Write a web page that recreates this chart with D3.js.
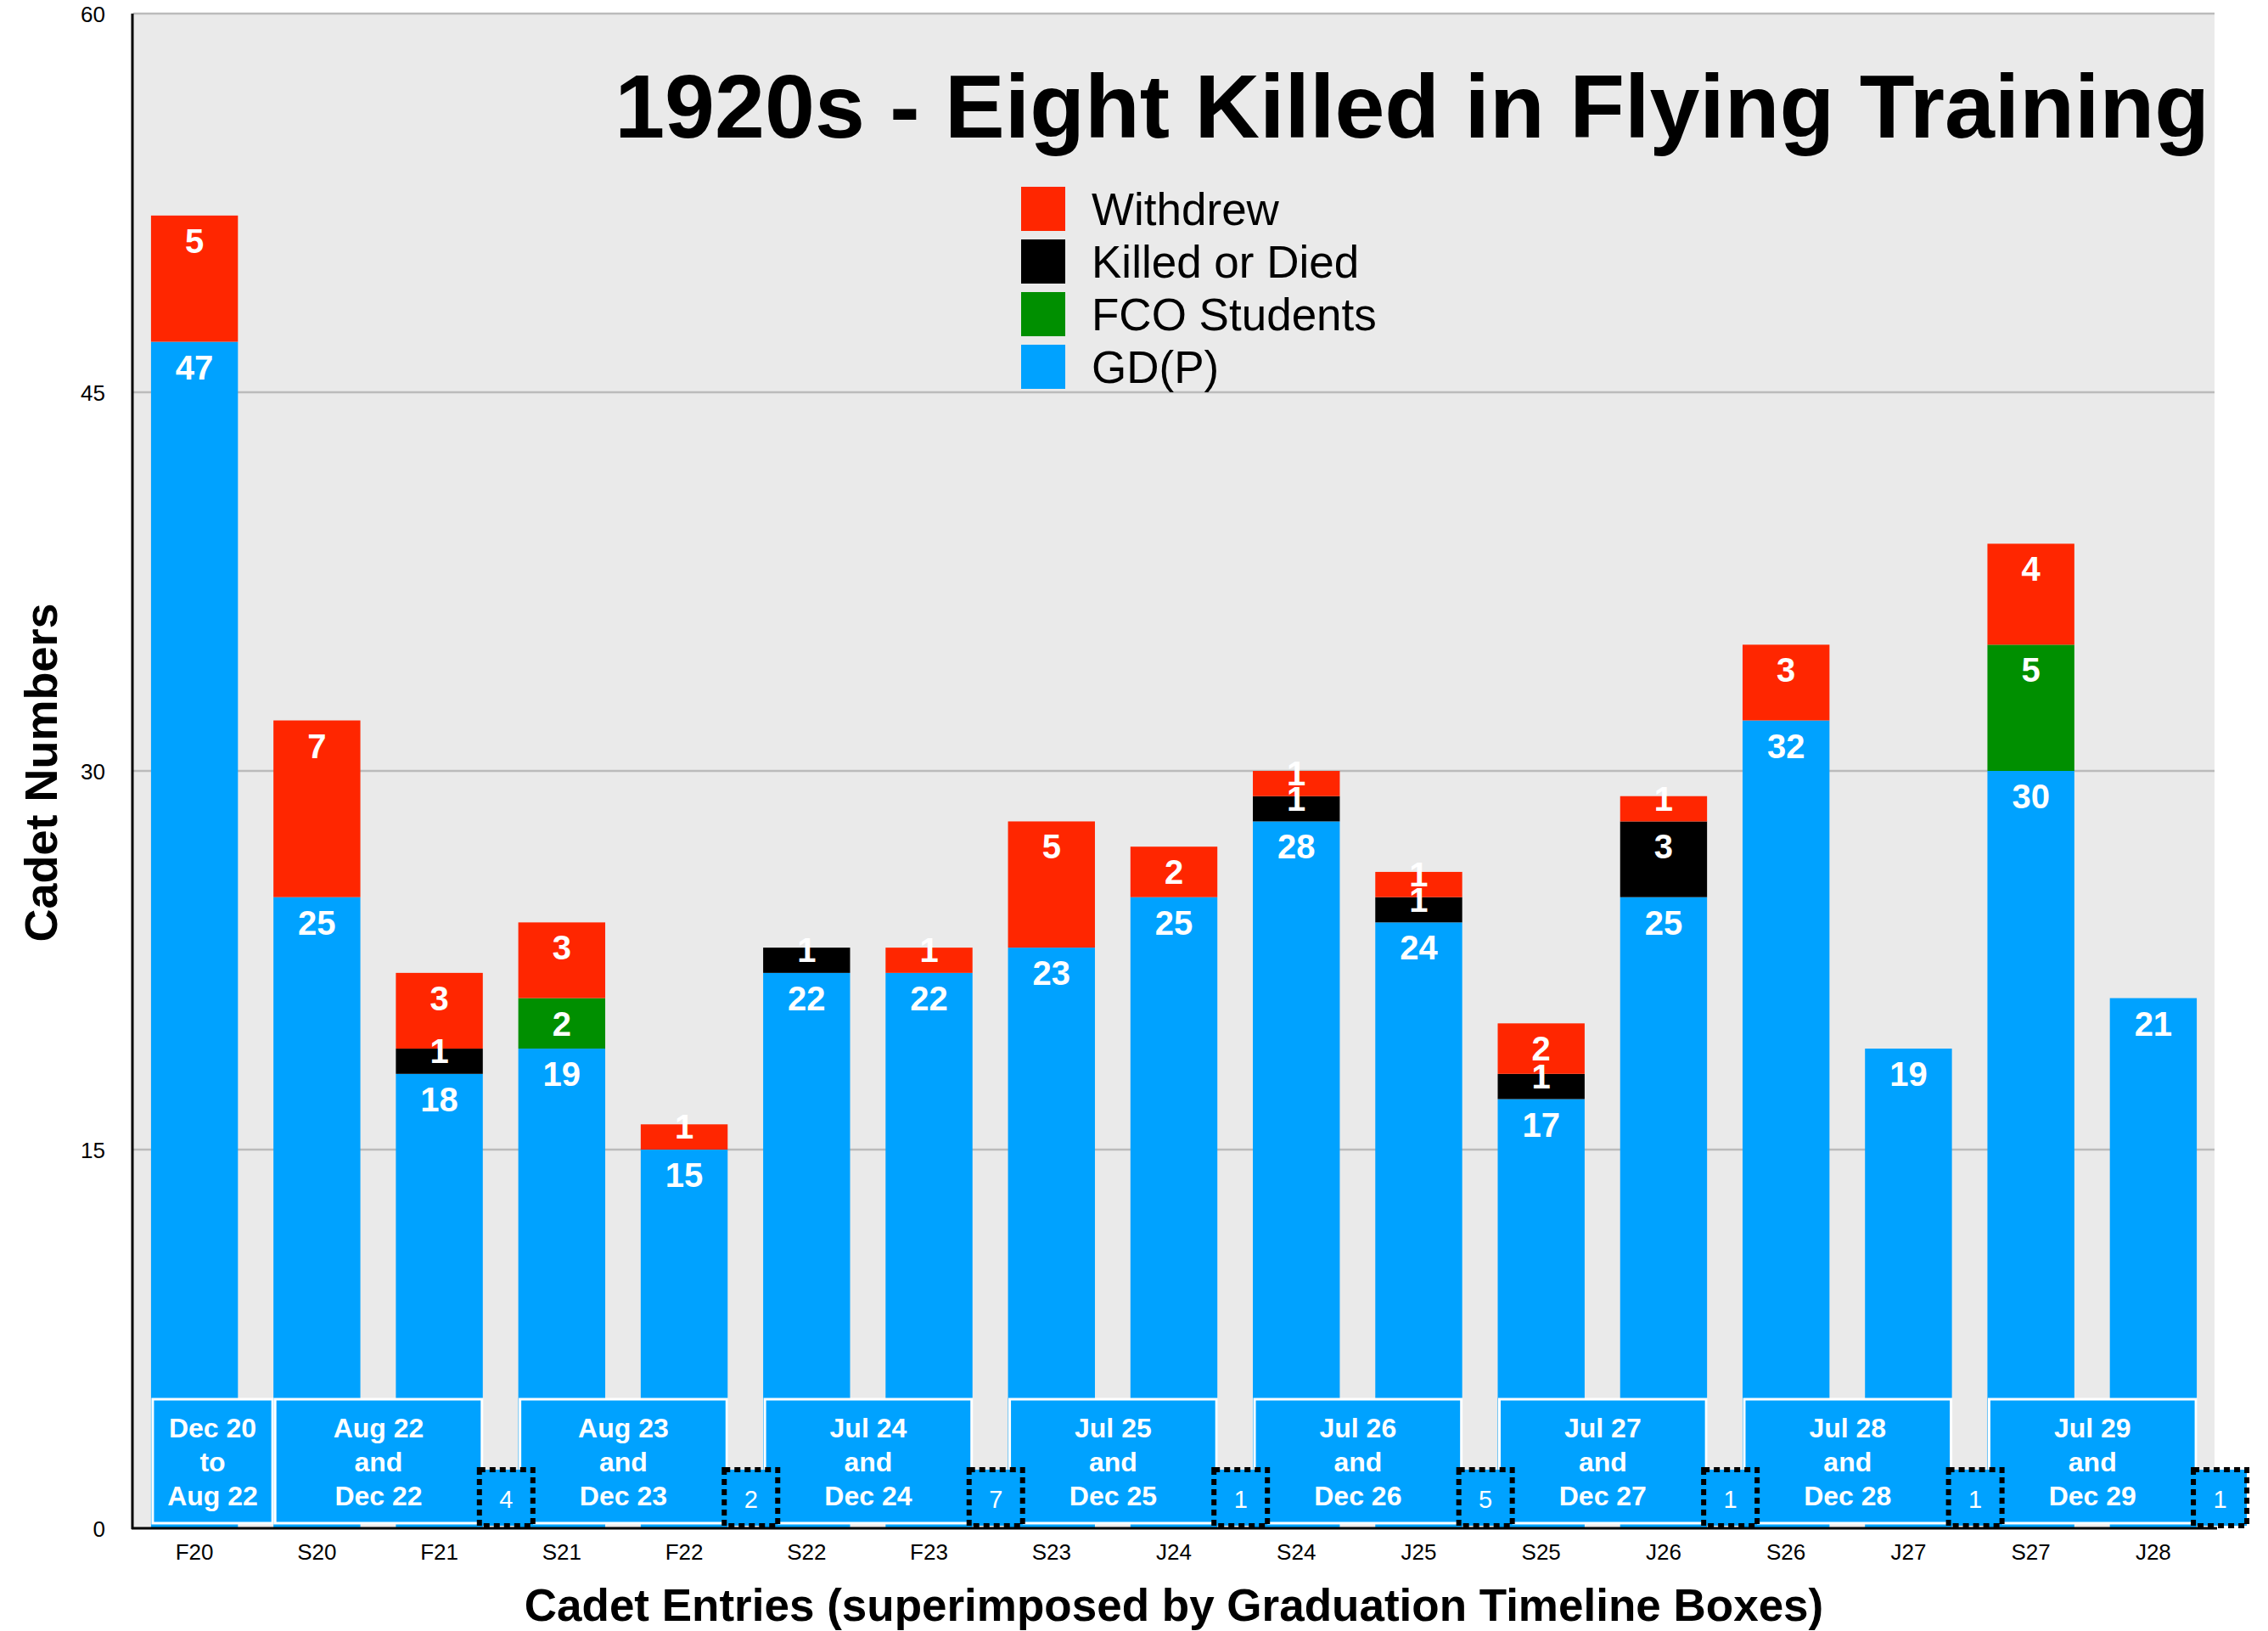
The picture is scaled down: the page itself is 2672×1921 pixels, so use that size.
<!DOCTYPE html>
<html>
  <head>
    <meta charset="UTF-8">
    <title>1920s - Eight Killed in Flying Training</title>
    <script src="https://d3js.org/d3.v7.min.js"></script>
    <style>
      body { margin: 0; background: #fff; }
      svg { display: block; font-family: "Liberation Sans", Arial, Helvetica, sans-serif; }
    </style>
  </head>
  <body>
    <svg width="2672" height="1921"></svg>

    <script>

const entries = ["F20", "S20", "F21", "S21", "F22", "S22", "F23", "S23", "J24",
                 "S24", "J25", "S25", "J26", "S26", "J27", "S27", "J28"];
const gdp      = [47, 25, 18, 19, 15, 22, 22, 23, 25, 28, 24, 17, 25, 32, 19, 30, 21];
const fco      = [ 0,  0,  0,  2,  0,  0,  0,  0,  0,  0,  0,  0,  0,  0,  0,  5,  0];
const killed   = [ 0,  0,  1,  0,  0,  1,  0,  0,  0,  1,  1,  1,  3,  0,  0,  0,  0];
const withdrew = [ 5,  7,  3,  3,  1,  0,  1,  5,  2,  1,  1,  2,  1,  3,  0,  4,  0];
const yTicks = [0, 15, 30, 45, 60];

// graduation timeline boxes
const gradFrom = ["F20", "S20", "S21", "S22", "S23", "S24", "S25", "S26", "S27"];
const gradTo   = ["F20", "F21", "F22", "F23", "J24", "J25", "J26", "J27", "J28"];
const gradText = [
  ["Dec 20", "to", "Aug 22"],
  ["Aug 22", "and", "Dec 22"],
  ["Aug 23", "and", "Dec 23"],
  ["Jul 24", "and", "Dec 24"],
  ["Jul 25", "and", "Dec 25"],
  ["Jul 26", "and", "Dec 26"],
  ["Jul 27", "and", "Dec 27"],
  ["Jul 28", "and", "Dec 28"],
  ["Jul 29", "and", "Dec 29"]
];
// small dotted boxes after these entries
const gapAfter  = ["F21", "F22", "F23", "J24", "J25", "J26", "J27", "J28"];
const gapCounts = [4, 2, 7, 1, 5, 1, 1, 1];

const keys = ["gdp", "fco", "killed", "withdrew"];
const keyNames = {withdrew: "Withdrew", killed: "Killed or Died", fco: "FCO Students", gdp: "GD(P)"};
const colors = {gdp: "#00A2FF", fco: "#008F00", killed: "#000000", withdrew: "#FF2600"};

const rows = entries.map((e, i) => ({
  entry: e, gdp: gdp[i], fco: fco[i], killed: killed[i], withdrew: withdrew[i]
}));

const svg = d3.select("svg");
const plotL = 157, plotR = 2609, plotT = 16, plotB = 1800;

const x = d3.scaleBand()
  .domain(entries)
  .range([plotL, plotR])
  .paddingInner(0.29)
  .paddingOuter(0.145);

const y = d3.scaleLinear()
  .domain([0, 60])
  .range([plotB, plotT]);

// plot background
svg.append("rect")
  .attr("x", plotL).attr("y", plotT)
  .attr("width", plotR - plotL).attr("height", plotB - plotT)
  .attr("fill", "#EAEAEA");

// gridlines
svg.append("g")
  .selectAll("line")
  .data(yTicks.filter(d => d > 0))
  .join("line")
  .attr("x1", plotL).attr("x2", plotR)
  .attr("y1", d => y(d)).attr("y2", d => y(d))
  .attr("stroke", "#BBBBBB")
  .attr("stroke-width", 2.5);

// y tick labels
svg.append("g")
  .selectAll("text")
  .data(yTicks)
  .join("text")
  .attr("x", 124)
  .attr("y", d => y(d) + 10)
  .attr("text-anchor", "end")
  .attr("font-size", 26)
  .text(d => d);

const series = d3.stack().keys(keys)(rows);

// bars
svg.append("g")
  .selectAll("g")
  .data(series)
  .join("g")
  .attr("fill", d => colors[d.key])
  .selectAll("rect")
  .data(d => d.filter(s => s[1] > s[0]))
  .join("rect")
  .attr("x", d => x(d.data.entry))
  .attr("width", x.bandwidth())
  .attr("y", d => y(d[1]))
  .attr("height", d => y(d[0]) - y(d[1]));

// segment labels
const segs = [];
series.forEach(s => s.forEach(d => {
  if (d[1] > d[0]) segs.push({entry: d.data.entry, v: d[1] - d[0], y0: d[0], y1: d[1]});
}));

svg.append("g")
  .selectAll("text")
  .data(segs)
  .join("text")
  .attr("x", d => x(d.entry) + x.bandwidth() / 2)
  .attr("y", d => {
    const h = y(d.y0) - y(d.y1);
    return h >= 50 ? y(d.y1) + 44 : y(d.y1) + h / 2 + 2;
  })
  .attr("text-anchor", "middle")
  .attr("font-size", 40)
  .attr("font-weight", "bold")
  .attr("fill", "#fff")
  .text(d => d.v);

// axis lines
svg.append("line")
  .attr("x1", plotL - 1).attr("x2", plotL - 1)
  .attr("y1", plotT).attr("y2", plotB + 1)
  .attr("stroke", "#000").attr("stroke-width", 3);
svg.append("line")
  .attr("x1", plotL - 2).attr("x2", plotR + 3)
  .attr("y1", plotB).attr("y2", plotB)
  .attr("stroke", "#000").attr("stroke-width", 3);

// graduation timeline boxes
const boxTop = y(0) - 152, boxBottom = y(0) - 6;
const boxes = gradFrom.map((f, i) => {
  const t = gradTo[i];
  const x1 = x(f) + 2;
  const x2 = f === t ? x(t) + x.step() - 1 : x(t) + x.bandwidth() - 1;
  return {x1, x2, lines: gradText[i]};
});

const box = svg.append("g")
  .selectAll("g")
  .data(boxes)
  .join("g");

box.append("rect")
  .attr("x", d => d.x1).attr("y", boxTop)
  .attr("width", d => d.x2 - d.x1).attr("height", boxBottom - boxTop)
  .attr("fill", colors.gdp)
  .attr("stroke", "#fff")
  .attr("stroke-width", 3);

box.selectAll("text")
  .data(d => d.lines.map((l, j) => ({l, j, cx: (d.x1 + d.x2) / 2})))
  .join("text")
  .attr("x", d => d.cx)
  .attr("y", d => boxTop + 45 + d.j * 40)
  .attr("text-anchor", "middle")
  .attr("font-size", 32)
  .attr("font-weight", "bold")
  .attr("fill", "#fff")
  .text(d => d.l);

// dotted boxes between timeline boxes
const dots = svg.append("g")
  .selectAll("g")
  .data(gapAfter.map((e, i) => ({e, n: gapCounts[i]})))
  .join("g")
  .attr("transform", d => `translate(${x(d.e) + x.bandwidth() - 4},${y(0) - 69})`);

dots.append("rect")
  .attr("width", 63).attr("height", 66)
  .attr("fill", colors.gdp)
  .attr("stroke", "#000")
  .attr("stroke-width", 6)
  .attr("stroke-dasharray", "7,5");

dots.append("text")
  .attr("x", 31.5).attr("y", 45)
  .attr("text-anchor", "middle")
  .attr("font-size", 29)
  .attr("fill", "#fff")
  .text(d => d.n);

// x tick labels
svg.append("g")
  .selectAll("text")
  .data(entries)
  .join("text")
  .attr("x", d => x(d) + x.bandwidth() / 2)
  .attr("y", 1837)
  .attr("text-anchor", "middle")
  .attr("font-size", 26)
  .text(d => d);

// axis titles
svg.append("text")
  .attr("x", (plotL + plotR) / 2)
  .attr("y", 1909)
  .attr("text-anchor", "middle")
  .attr("font-size", 53)
  .attr("font-weight", "bold")
  .text("Cadet Entries (superimposed by Graduation Timeline Boxes)");

svg.append("text")
  .attr("transform", "translate(67,910) rotate(-90)")
  .attr("text-anchor", "middle")
  .attr("font-size", 54)
  .attr("font-weight", "bold")
  .text("Cadet Numbers");

// title
svg.append("text")
  .attr("x", 2603)
  .attr("y", 162)
  .attr("text-anchor", "end")
  .attr("font-size", 106)
  .attr("font-weight", "bold")
  .text("1920s - Eight Killed in Flying Training");

// legend
const legendKeys = ["withdrew", "killed", "fco", "gdp"];
const legend = svg.append("g")
  .selectAll("g")
  .data(legendKeys)
  .join("g")
  .attr("transform", (d, i) => `translate(1203,${220 + i * 62})`);

legend.append("rect")
  .attr("width", 52).attr("height", 52)
  .attr("fill", d => colors[d]);

legend.append("text")
  .attr("x", 83).attr("y", 45)
  .attr("font-size", 53)
  .text(d => keyNames[d]);

    </script>
  </body>
</html>
